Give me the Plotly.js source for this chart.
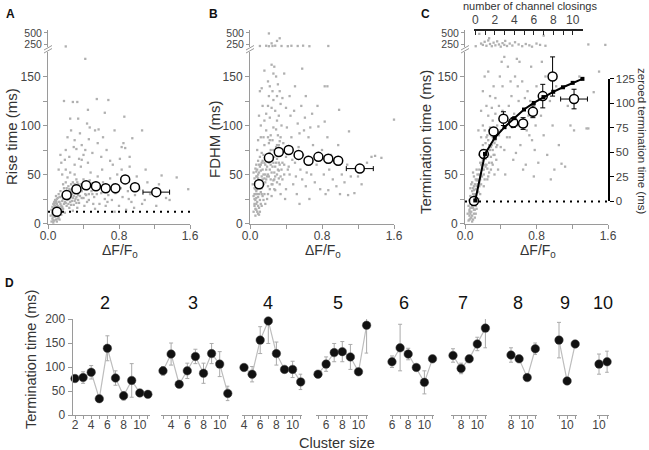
<!DOCTYPE html>
<html><head><meta charset="utf-8">
<script src="https://cdn.plot.ly/plotly-3.0.1.min.js"></script>
<style>html,body{margin:0;padding:0;background:#fff}#chart{width:649px;height:450px}</style>
</head><body><div id="chart"></div>
<script>
// ---------------- DATA ----------------
const binX = [0.10, 0.21, 0.32, 0.43, 0.54, 0.65, 0.76, 0.87, 0.98, 1.22];
const binXErr = [0, 0, 0, 0, 0, 0, 0, 0, 0, 0.15];
const riseMean = [12, 29, 35, 39, 38, 36, 36, 45, 37, 32];
const riseErr = [1, 2, 2, 2, 2, 2, 2, 3, 3, 3];
const fdhmMean = [40, 67, 73, 75, 70, 64, 68, 66, 64, 56];
const fdhmErr = [2, 3, 3, 3, 3, 3, 3, 4, 4, 4];
const termMean = [23, 71, 94, 107, 103, 102, 114, 130, 150, 127];
const termErr = [1, 2, 4, 7, 5, 6, 6, 12, 20, 10];
const riseBaseline = 12;
const termBaseline = 22.5;
const closings = [0, 1, 2, 3, 4, 5, 6, 7, 8, 9, 10, 11];
const fitDF = [0.115, 0.224, 0.333, 0.442, 0.551, 0.66, 0.769, 0.878, 0.987, 1.096, 1.205, 1.314];
const fitTerm = [23.5, 71, 87.4, 98.3, 107.5, 116.3, 123, 129, 134.4, 139, 143.5, 147.6];
const dfTickVals = [0, 0.4, 0.8, 1.2, 1.6];
const dfTickText = ['0.0', '', '0.8', '', '1.6'];
const msTickVals = [0, 25, 50, 75, 100, 125, 150];
const msTickText = ['0', '', '50', '', '100', '', '150'];
const upTickVals = [250, 500];
const upTickText = ['250', '500'];
const zeroedTicks = [0, 25, 50, 75, 100, 125];

const riseScatter = [
 [0.04,2],[0.05,5],[0.06,1],[0.07,3],[0.05,9],[0.06,12],[0.08,7],[0.09,4],[0.1,8],[0.07,15],[0.08,18],[0.09,11],[0.11,14],[0.12,6],[0.13,10],[0.1,20],[0.12,17],[0.14,13],[0.06,20],[0.08,24],[0.11,26],[0.13,22],[0.15,18],[0.15,9],[0.04,14],[0.05,17],[0.09,28],[0.12,30],[0.14,27],[0.16,23],[0.07,10],[0.1,2],[0.06,7],[0.11,5],[0.03,8],[0.08,13],[0.13,16],[0.16,12],[0.09,16],[0.1,12],
 [0.17,15],[0.18,20],[0.19,28],[0.2,33],[0.21,18],[0.22,24],[0.23,38],[0.24,30],[0.25,22],[0.26,27],[0.27,35],[0.28,42],[0.29,19],[0.3,31],[0.31,25],[0.32,45],[0.33,37],[0.34,29],[0.35,21],[0.18,36],[0.2,42],[0.22,47],[0.24,16],[0.26,40],[0.28,13],[0.3,50],[0.32,34],[0.34,40],[0.19,11],[0.21,30],[0.23,26],[0.25,34],[0.27,23],[0.29,28],[0.31,38],[0.33,16],[0.17,40],[0.2,55],[0.25,52],[0.3,60],
 [0.05,11],[0.06,16],[0.07,19],[0.08,21],[0.09,23],[0.1,25],[0.11,18],[0.12,22],[0.13,27],[0.14,20],[0.15,15],[0.16,28],[0.17,25],[0.18,31],[0.19,22],[0.2,26],[0.21,36],[0.22,29],[0.23,20],[0.24,35],[0.25,28],[0.26,19],[0.27,30],[0.28,33],[0.29,38],[0.3,23],[0.31,32],[0.32,27],[0.33,42],[0.34,24],[0.35,36],[0.36,28],[0.37,40],[0.38,33],[0.4,26],[0.41,41],[0.42,30],[0.44,35],[0.46,24],[0.48,38],[0.5,30],[0.06,3],[0.08,9],[0.1,17],[0.12,13],[0.14,33],[0.16,17],[0.18,26],[0.2,21],[0.22,33],[0.24,25],[0.26,32],[0.28,26],[0.3,40],[0.32,21],[0.34,33],[0.09,21],[0.11,9],[0.13,4],[0.07,22],
 [0.36,33],[0.38,26],[0.4,45],[0.42,38],[0.44,22],[0.46,30],[0.48,52],[0.5,41],[0.52,27],[0.54,35],[0.56,48],[0.58,20],[0.6,31],[0.62,42],[0.64,25],[0.66,38],[0.68,29],[0.7,46],[0.37,58],[0.41,18],[0.45,62],[0.49,33],[0.53,15],[0.57,40],[0.61,55],[0.65,18],[0.69,35],[0.39,36],[0.43,29],[0.47,44],[0.51,20],[0.55,30],[0.59,37],[0.63,33],[0.67,22],
 [0.72,24],[0.74,40],[0.76,31],[0.78,50],[0.8,18],[0.82,36],[0.84,27],[0.86,45],[0.88,14],[0.9,33],[0.92,58],[0.94,22],[0.96,40],[0.98,29],[1.0,48],[0.75,12],[0.83,55],[0.91,25],[0.73,60],[0.97,16],
 [1.03,35],[1.06,20],[1.09,24],[1.12,42],[1.15,30],[1.17,30],[1.22,18],[1.28,49],[1.33,26],[1.37,24],[1.45,47],[1.58,35],[1.25,40],[1.1,55],
 [0.14,70],[0.15,62],[0.18,125],[0.19,65],[0.2,75],[0.22,88],[0.24,68],[0.25,107],[0.26,95],[0.28,124],[0.29,78],[0.3,85],[0.32,76],[0.33,124],[0.34,107],[0.35,66],[0.36,92],[0.38,80],[0.4,70],[0.42,168],[0.42,75],[0.44,102],[0.45,116],[0.46,86],[0.47,98],[0.5,72],[0.53,95],[0.55,127],[0.56,82],[0.57,96],[0.6,68],[0.62,88],[0.64,113],[0.66,75],[0.68,126],[0.7,64],[0.75,95],[0.81,66],[0.83,78],[0.85,82],[0.86,109],[0.87,77],[0.92,68],[0.95,87],[1.06,95],[0.12,55],[0.16,50],[0.38,65]
];
const riseUpper = [[0.2,195]];

const fdhmScatter = [
 [0.04,12],[0.05,18],[0.06,8],[0.07,14],[0.08,22],[0.09,10],[0.1,16],[0.05,25],[0.06,30],[0.07,20],[0.08,35],[0.09,27],[0.1,40],[0.11,24],[0.12,32],[0.13,18],[0.14,45],[0.06,42],[0.07,48],[0.08,55],[0.09,38],[0.1,52],[0.11,58],[0.12,44],[0.13,36],[0.14,28],[0.15,50],[0.05,36],[0.04,28],[0.07,60],[0.08,12],[0.09,46],[0.1,30],[0.11,12],[0.12,20],[0.13,62],[0.14,38],[0.15,24],[0.06,15],[0.08,43],[0.1,9],[0.12,54],[0.05,46],[0.07,33],[0.09,64],[0.11,68],[0.13,72],[0.04,52],[0.06,56],[0.03,40],
 [0.05,20],[0.06,24],[0.07,40],[0.08,30],[0.09,50],[0.1,44],[0.11,36],[0.12,60],[0.13,48],[0.14,55],[0.15,40],[0.16,62],[0.17,50],[0.18,45],[0.19,58],[0.2,70],[0.21,62],[0.22,55],[0.23,75],[0.24,68],[0.25,58],[0.26,62],[0.27,45],[0.28,72],[0.29,62],[0.3,42],[0.31,55],[0.32,80],[0.33,60],[0.34,48],[0.35,70],[0.36,62],[0.38,50],[0.4,68],[0.42,55],[0.06,35],[0.08,48],[0.1,60],[0.12,38],[0.14,64],[0.16,46],[0.18,70],[0.2,50],[0.22,85],[0.24,40],[0.26,75],[0.28,48],[0.3,66],[0.32,54],[0.34,88],[0.07,26],[0.09,18],[0.11,44],[0.13,30],[0.05,30],[0.07,53],[0.2,30],[0.27,35],[0.15,88],[0.23,90],
 [0.16,30],[0.17,42],[0.18,55],[0.19,65],[0.2,38],[0.21,48],[0.22,72],[0.23,60],[0.24,52],[0.25,85],[0.26,44],[0.27,68],[0.28,58],[0.29,78],[0.3,50],[0.31,90],[0.32,62],[0.33,40],[0.34,75],[0.35,55],[0.16,80],[0.18,95],[0.2,88],[0.22,35],[0.24,28],[0.26,98],[0.28,34],[0.3,105],[0.32,46],[0.34,30],[0.17,60],[0.19,25],[0.21,82],[0.23,45],[0.25,65],[0.27,52],[0.29,96],[0.31,70],[0.33,84],[0.35,100],[0.16,105],[0.18,112],[0.2,120],[0.22,108],[0.24,118],[0.26,126],[0.28,115],[0.3,130],[0.32,110],[0.34,122],[0.15,70],[0.17,20],[0.25,40],[0.3,80],[0.19,48],
 [0.11,135],[0.13,138],[0.12,100],[0.14,120],[0.16,156],[0.2,145],[0.22,140],[0.24,162],[0.26,153],[0.27,160],[0.29,150],[0.31,142],[0.33,135],[0.36,128],[0.38,153],[0.4,118],[0.21,130],[0.25,135],[0.09,85],[0.1,110],[0.08,75],[0.12,88],
 [0.36,45],[0.38,60],[0.4,35],[0.42,72],[0.44,50],[0.46,88],[0.48,40],[0.5,62],[0.52,30],[0.54,78],[0.56,55],[0.58,45],[0.6,95],[0.62,38],[0.64,68],[0.66,25],[0.68,50],[0.7,80],[0.37,82],[0.41,98],[0.45,110],[0.49,115],[0.53,102],[0.57,120],[0.61,108],[0.65,88],[0.69,112],[0.39,25],[0.43,58],[0.47,65],[0.51,48],[0.55,92],[0.59,70],[0.63,52],[0.67,98],[0.58,158],[0.5,140],[0.44,130],[0.62,130],[0.55,20],
 [0.72,42],[0.74,60],[0.76,99],[0.78,35],[0.8,75],[0.82,50],[0.83,104],[0.84,30],[0.86,88],[0.87,34],[0.88,55],[0.9,70],[0.92,45],[0.94,62],[0.96,38],[0.98,80],[0.99,116],[1.0,30],[0.83,140],[0.86,140],[0.75,120],
 [1.02,50],[1.05,42],[1.08,60],[1.09,29],[1.1,94],[1.12,48],[1.16,31],[1.18,55],[1.2,48],[1.24,40],[1.3,62],[1.35,68],[1.39,69],[1.46,67],[1.6,106],[1.26,58]
];
const fdhmUpper = [[0.11,205],[0.18,210],[0.21,490],[0.21,200],[0.24,265],[0.25,205],[0.28,212],[0.3,320],[0.33,380],[0.35,205],[0.42,200],[0.46,210],[0.53,205],[0.59,212],[0.66,200],[0.87,205]];

const termScatter = [
 [0.04,3],[0.05,8],[0.06,5],[0.07,12],[0.08,2],[0.09,16],[0.1,10],[0.05,14],[0.06,20],[0.07,25],[0.08,18],[0.09,30],[0.1,22],[0.11,28],[0.12,35],[0.13,20],[0.14,40],[0.04,18],[0.06,28],[0.08,33],[0.1,38],[0.12,45],[0.13,15],[0.14,25],[0.15,32],[0.07,6],[0.09,4],[0.11,14],[0.05,24],[0.06,36],[0.08,42],[0.1,48],[0.12,26],[0.15,44],[0.16,38],[0.11,6],[0.03,10],[0.07,40],[0.09,52],[0.13,55],[0.14,50],[0.12,18],[0.08,26],[0.06,10],[0.1,30],
 [0.05,12],[0.06,16],[0.07,20],[0.08,24],[0.09,22],[0.1,34],[0.11,40],[0.12,30],[0.13,38],[0.14,45],[0.15,40],[0.16,55],[0.17,48],[0.18,60],[0.19,58],[0.2,65],[0.21,55],[0.22,70],[0.23,66],[0.24,75],[0.25,68],[0.26,85],[0.27,62],[0.28,75],[0.29,90],[0.3,80],[0.31,88],[0.32,70],[0.33,95],[0.34,85],[0.36,100],[0.38,90],[0.4,78],[0.42,115],[0.05,4],[0.07,16],[0.09,36],[0.11,20],[0.13,44],[0.15,25],[0.17,45],[0.19,62],[0.21,50],[0.23,72],[0.25,56],[0.27,95],[0.29,68],[0.31,60],[0.33,82],[0.35,78],[0.08,8],[0.1,14],[0.12,10],[0.14,33],[0.16,42],[0.18,50],[0.2,80],[0.22,60],[0.24,88],[0.26,48],
 [0.16,50],[0.17,62],[0.18,40],[0.19,75],[0.2,55],[0.21,68],[0.22,45],[0.23,82],[0.24,60],[0.25,90],[0.26,70],[0.27,52],[0.28,98],[0.29,78],[0.3,62],[0.31,105],[0.32,85],[0.33,70],[0.34,112],[0.35,92],[0.16,70],[0.18,88],[0.2,100],[0.22,95],[0.24,120],[0.26,110],[0.28,130],[0.3,118],[0.32,140],[0.34,128],[0.17,30],[0.19,48],[0.21,38],[0.23,58],[0.25,45],[0.27,80],[0.29,55],[0.31,75],[0.33,50],[0.35,65],[0.2,135],[0.22,150],[0.26,155],[0.18,115],[0.15,95],
 [0.36,80],[0.38,120],[0.4,95],[0.42,140],[0.44,75],[0.46,110],[0.48,160],[0.5,88],[0.52,130],[0.54,65],[0.56,150],[0.58,100],[0.6,125],[0.62,80],[0.64,145],[0.66,105],[0.68,60],[0.7,135],[0.72,90],[0.74,160],[0.76,115],[0.78,75],[0.8,140],[0.37,55],[0.41,165],[0.45,50],[0.49,120],[0.53,98],[0.57,72],[0.61,165],[0.65,55],[0.69,95],[0.73,125],[0.77,48],[0.39,150],[0.43,105],[0.47,88],[0.51,145],[0.55,112],[0.59,140],[0.63,100],[0.67,128],[0.71,110],[0.75,85],[0.79,100],[0.44,170],[0.58,168],
 [0.82,62],[0.85,110],[0.88,90],[0.9,150],[0.92,70],[0.95,125],[0.98,100],[1.0,55],[1.02,140],[1.05,80],[1.08,61],[1.12,58],[1.15,120],[1.18,100],[1.22,95],[1.28,150],[1.36,97],[1.38,97],[1.44,134],[1.5,155],[0.86,165],[0.96,45]
];
const termUpper = [[0.12,200],[0.16,480],[0.18,260],[0.2,230],[0.22,300],[0.24,210],[0.26,330],[0.27,380],[0.28,250],[0.3,200],[0.32,280],[0.34,220],[0.36,310],[0.38,240],[0.4,190],[0.42,270],[0.44,230],[0.45,320],[0.47,205],[0.5,260],[0.53,215],[0.56,290],[0.6,240],[0.64,200],[0.68,250],[0.72,220],[0.75,190],[0.8,260],[0.84,230],[0.88,440],[0.9,210],[1.38,240],[1.57,230]];

// Panel D: termination time vs cluster size (x runs from cluster size to 11)
const clusterSizes = [2, 3, 4, 5, 6, 7, 8, 9, 10];
const term2 = [76, 78, 89, 34, 139, 77, 40, 72, 46, 43];
const err2P = [4, 12, 14, 3, 26, 15, 9, 35, 4, 3];
const err2M = [4, 12, 14, 3, 26, 15, 9, 35, 4, 3];
const term3 = [92, 127, 64, 92, 122, 87, 128, 106, 45];
const err3P = [9, 23, 5, 16, 15, 21, 21, 26, 15];
const err3M = [9, 23, 5, 16, 15, 21, 21, 26, 15];
const term4 = [99, 85, 156, 196, 128, 95, 95, 69];
const err4P = [5, 16, 28, 13, 24, 5, 17, 16];
const err4M = [5, 16, 28, 47, 24, 5, 17, 16];
const term5 = [85, 106, 130, 132, 121, 90, 187];
const err5P = [4, 15, 19, 21, 26, 5, 21];
const err5M = [4, 15, 19, 21, 26, 5, 58];
const term6 = [111, 140, 127, 99, 68, 117];
const err6P = [12, 49, 12, 4, 24, 3];
const err6M = [12, 48, 12, 4, 24, 3];
const term7 = [124, 97, 117, 148, 181];
const err7P = [14, 11, 4, 14, 26];
const err7M = [14, 11, 4, 14, 41];
const term8 = [125, 117, 78, 138];
const err8P = [15, 3, 4, 12];
const err8M = [15, 3, 4, 12];
const term9 = [156, 71, 148];
const err9P = [37, 4, 4];
const err9M = [37, 4, 4];
const term10 = [106, 111];
const err10P = [21, 22];
const err10M = [21, 22];
const dTermSeries = [term2, term3, term4, term5, term6, term7, term8, term9, term10];
const dErrPlus = [err2P, err3P, err4P, err5P, err6P, err7P, err8P, err9P, err10P];
const dErrMinus = [err2M, err3M, err4M, err5M, err6M, err7M, err8M, err9M, err10M];
const dYTicks = [0, 50, 100, 150, 200];

// ---------------- LAYOUT ----------------
const W = 649, H = 450;
const fx = p => p / W, fy = p => 1 - p / H;
const GRAY = '#9a9a9a', TXT = '#333', TICK = '#444';
const FONT = 'Liberation Sans, Arial, Helvetica, sans-serif';
const layout = {
  width: W, height: H, margin: {l: 0, r: 0, t: 0, b: 0}, showlegend: false,
  paper_bgcolor: '#fff', plot_bgcolor: 'rgba(0,0,0,0)',
  font: {family: FONT, size: 12, color: TICK},
  annotations: [], shapes: []
};
const data = [];
let axN = 0;
function sub(xa, ya) {
  axN++;
  const s = axN === 1 ? '' : String(axN);
  layout['xaxis' + s] = Object.assign({anchor: 'y' + s, showgrid: false, zeroline: false, fixedrange: true}, xa);
  layout['yaxis' + s] = Object.assign({anchor: 'x' + s, showgrid: false, zeroline: false, fixedrange: true}, ya);
  return {xaxis: 'x' + s, yaxis: 'y' + s};
}
function ann(text, x, y, size, opts) {
  layout.annotations.push(Object.assign({text: text, xref: 'paper', yref: 'paper', x: fx(x), y: fy(y),
    xanchor: 'center', yanchor: 'middle', showarrow: false, font: {family: FONT, size: size, color: TXT}}, opts || {}));
}
const axLine = {showline: true, linecolor: GRAY, linewidth: 1, ticks: 'outside', ticklen: 4, tickcolor: GRAY, tickwidth: 1, tickfont: {size: 12, color: TICK}};

const LOW_B = 223.5, LOW_T = 52, UP_B = 47, UP_T = 30;
const lowRange = [0, 175], upRange = [182, 568];
const pxPerMs = (LOW_B - LOW_T) / (lowRange[1] - lowRange[0]);

function scatterPanel(L, R, scat, upper) {
  const lo = sub(Object.assign({domain: [fx(L), fx(R)], range: [0, 1.6], tickvals: dfTickVals, ticktext: dfTickText}, axLine, {ticklabelstandoff: -3}),
                 Object.assign({domain: [fy(LOW_B), fy(LOW_T)], range: lowRange, tickvals: msTickVals, ticktext: msTickText}, axLine));
  const up = sub({domain: [fx(L), fx(R)], range: [0, 1.6], visible: false},
                 Object.assign({domain: [fy(UP_B), fy(UP_T)], range: upRange, tickvals: upTickVals, ticktext: upTickText}, axLine, {ticklen: 3, tickfont: {size: 10.5, color: TICK}}));
  const gm = {symbol: 'square', size: 2.3, color: '#b0b0b0'};
  data.push(Object.assign({type: 'scatter', mode: 'markers', x: scat.map(p => p[0]), y: scat.map(p => p[1]), marker: gm, hoverinfo: 'skip', cliponaxis: false}, lo));
  data.push(Object.assign({type: 'scatter', mode: 'markers', x: upper.map(p => p[0]), y: upper.map(p => p[1]), marker: gm, hoverinfo: 'skip', cliponaxis: false}, up));
  // break marks
  [[53, 48.5], [50, 45.5]].forEach(v => layout.shapes.push({type: 'line', xref: 'paper', yref: 'paper', x0: fx(L - 4), y0: fy(v[0]), x1: fx(L + 4), y1: fy(v[1]), line: {color: GRAY, width: 1}}));
  return {lo: lo, up: up};
}
const meanMarker = {symbol: 'circle', size: 9, color: '#fff', line: {color: '#000', width: 1.5}};
function meanTrace(ax, y, e) {
  return Object.assign({type: 'scatter', mode: 'markers', x: binX, y: y, marker: meanMarker, cliponaxis: false,
    error_y: {type: 'data', array: e, color: '#000', thickness: 1, width: 2.5},
    error_x: {type: 'data', array: binXErr, color: '#000', thickness: 1, width: 2.5}}, ax);
}

// Panel A
const pA = scatterPanel(48, 190, riseScatter, riseUpper);
data.push(Object.assign({type: 'scatter', mode: 'lines', x: [0, 1.6], y: [riseBaseline, riseBaseline], line: {color: '#000', width: 2, dash: '2px,5px'}, hoverinfo: 'skip'}, pA.lo));
data.push(meanTrace(pA.lo, riseMean, riseErr));
// Panel B
const pB = scatterPanel(250, 394, fdhmScatter, fdhmUpper);
data.push(meanTrace(pB.lo, fdhmMean, fdhmErr));
// Panel C
const pC = scatterPanel(465, 608, termScatter, termUpper);
data.push(Object.assign({type: 'scatter', mode: 'lines', x: [0, 1.6], y: [termBaseline, termBaseline], line: {color: '#000', width: 2, dash: '2px,5px'}, hoverinfo: 'skip'}, pC.lo));
data.push(meanTrace(pC.lo, termMean, termErr));
data.push(Object.assign({type: 'scatter', mode: 'lines+markers', x: fitDF, y: fitTerm, line: {color: '#000', width: 2}, marker: {symbol: 'square', size: 4, color: '#000'}, cliponaxis: false}, pC.lo));

// right axis: zeroed termination time
const zB = LOW_B - termBaseline * pxPerMs, zT = LOW_B - (termBaseline + 125) * pxPerMs;
const rAx = sub({domain: [fx(465), fx(608)], range: [0, 1.6], visible: false},
  {domain: [fy(zB), fy(zT)], range: [0, 125], side: 'right', tickvals: zeroedTicks, showline: true, linecolor: '#000', linewidth: 1.5,
   ticks: 'outside', ticklen: 4, tickcolor: '#000', tickfont: {size: 11.5, color: TICK}});
data.push(Object.assign({type: 'scatter', mode: 'markers', x: [], y: [], hoverinfo: 'skip'}, rAx));
// top axis: number of channel closings
const tAx = sub({domain: [fx(474), fx(583)], range: [-0.15, 11.05], side: 'top', anchor: 'free', position: fy(29),
   tickvals: closings, ticktext: closings.map(c => c % 2 === 0 ? String(c) : ''), showline: true, linecolor: '#222', linewidth: 1.5,
   ticks: 'inside', ticklen: 4, tickcolor: '#222', tickfont: {size: 12, color: TICK}},
  {domain: [fy(30), fy(28)], range: [0, 1], visible: false});
data.push(Object.assign({type: 'scatter', mode: 'markers', x: [], y: [], hoverinfo: 'skip'}, tAx));

// Titles A-C
ann('<b>A</b>', 10, 14, 12, {font: {family: FONT, size: 12, color: '#111'}});
ann('<b>B</b>', 213, 14, 12, {font: {family: FONT, size: 12, color: '#111'}});
ann('<b>C</b>', 425, 14, 12, {font: {family: FONT, size: 12, color: '#111'}});
ann('<b>D</b>', 9, 283, 12, {font: {family: FONT, size: 12, color: '#111'}});
ann('Rise time (ms)', 11, 137, 15, {textangle: -90});
ann('FDHM (ms)', 214, 140, 15, {textangle: -90});
ann('Termination time (ms)', 425, 142, 15, {textangle: -90});
ann('ΔF/F<sub>0</sub>', 120, 251, 14);
ann('ΔF/F<sub>0</sub>', 323, 251, 14);
ann('ΔF/F<sub>0</sub>', 538, 251, 14);
ann('number of channel closings', 530, 6, 11);
ann('zeroed termination time (ms)', 642, 141, 11.5, {textangle: 90});

// Panel D
const D_B = 415, D_T = 319, dScale = 8.1;
const dFirstPx = [75, 163, 244, 318, 392, 453, 511, 559, 599];
const dTitlePx = [105, 193, 268, 338, 404, 463, 518, 565, 603];
clusterSizes.forEach((c, i) => {
  const xs = [];
  for (let k = c; k <= 11; k++) xs.push(k);
  const L = dFirstPx[i] - 0.3 * dScale, R = dFirstPx[i] + (11.2 - c) * dScale;
  const yOpts = i === 0
    ? Object.assign({domain: [fy(D_B), fy(D_T)], range: [0, 200], tickvals: dYTicks}, axLine, {tickfont: {size: 12, color: TICK}})
    : {domain: [fy(D_B), fy(D_T)], range: [0, 200], visible: false};
  const ax = sub(Object.assign({domain: [fx(L), fx(R)], range: [c - 0.3, 11.2], tickvals: xs,
      ticktext: xs.map(v => v % 2 === 0 ? String(v) : '')}, axLine, {ticklen: 3, ticklabelstandoff: -4}), yOpts);
  data.push(Object.assign({type: 'scatter', mode: 'lines+markers', x: xs, y: dTermSeries[i], cliponaxis: false,
    line: {color: '#bdbdbd', width: 1.2},
    marker: {symbol: 'circle', size: 8.5, color: '#111', line: {color: '#444', width: 0.5}},
    error_y: {type: 'data', symmetric: false, array: dErrPlus[i], arrayminus: dErrMinus[i], color: '#aaa', thickness: 1, width: 2}}, ax));
  ann(String(c), dTitlePx[i], 303, 18, {font: {family: FONT, size: 18, color: '#111'}});
});
ann('Termination time (ms)', 31, 360, 14.5, {textangle: -90});
ann('Cluster size', 337, 443, 14.5);

Plotly.newPlot('chart', data, layout, {staticPlot: true, displayModeBar: false});
</script>
</body></html>
